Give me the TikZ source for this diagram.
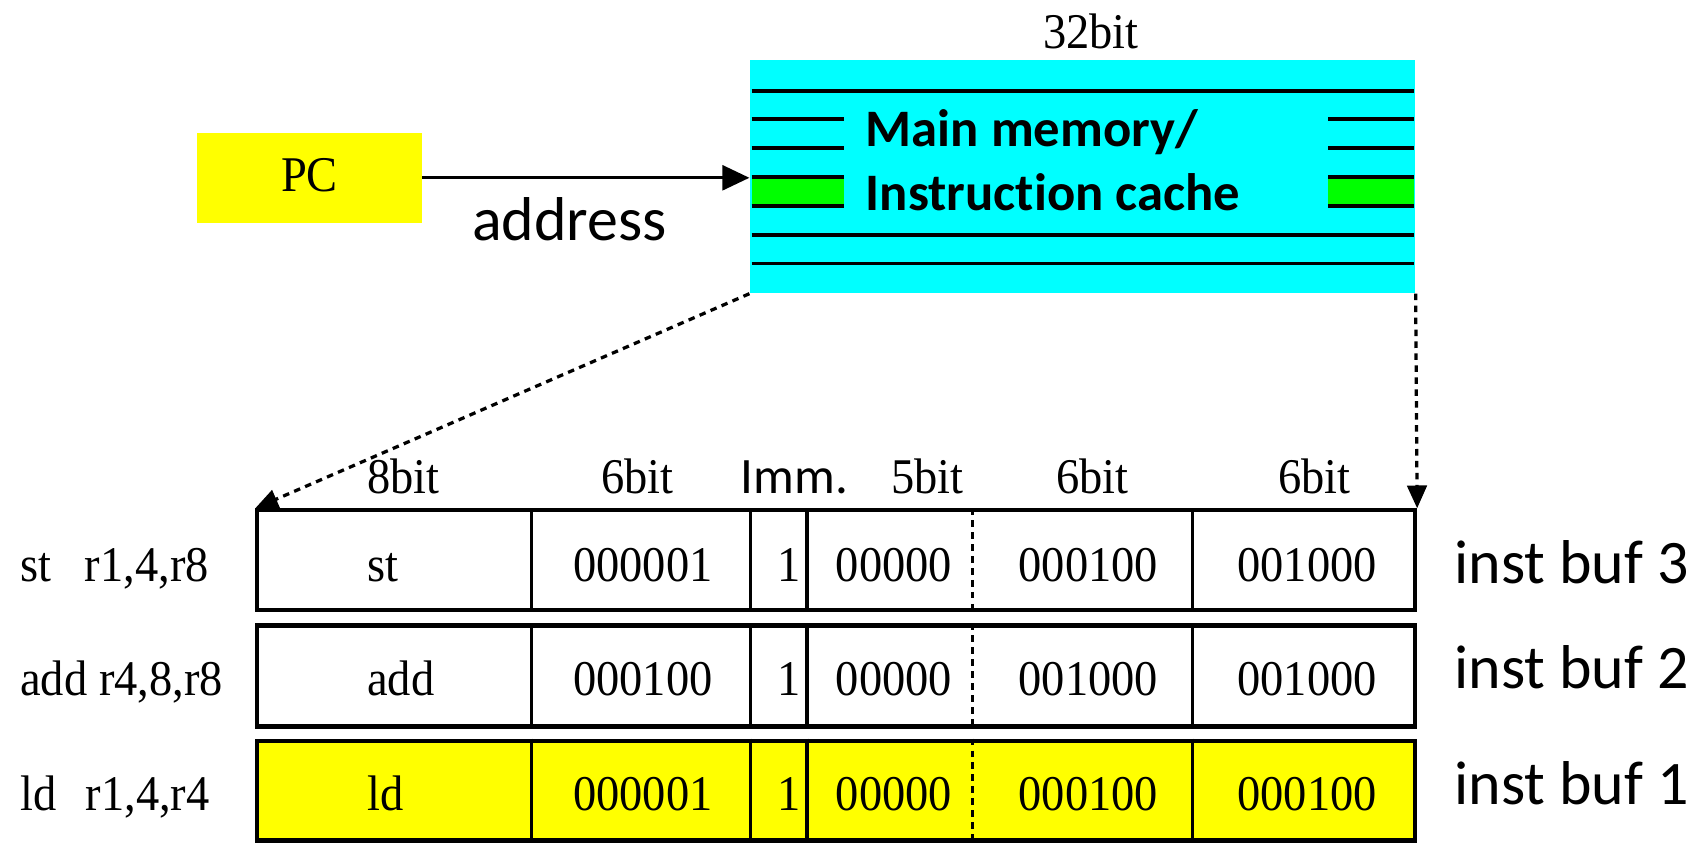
\documentclass[tikz,border=0pt]{standalone}
\usepackage{fontspec}
\setmainfont{Liberation Serif}
\newfontfamily\serifc[FakeStretch=0.93]{Liberation Serif}
\newfontfamily\calibfont[Ligatures=NoCommon]{Carlito}
\usetikzlibrary{arrows.meta}
\definecolor{cyanfill}{HTML}{00FFFF}
\definecolor{greenfill}{HTML}{00FF00}
\definecolor{yellowfill}{HTML}{FFFF00}
\begin{document}
\begin{tikzpicture}[x=1pt,y=-1pt,
  serif/.style={font=\serifc\fontsize{46}{52}\selectfont, inner sep=0pt},
  sans/.style={font=\calibfont\fontsize{57}{64}\selectfont, inner sep=0pt},
  boldsans/.style={font=\calibfont\bfseries\fontsize{48.5}{58}\selectfont, inner sep=0pt},
  imm/.style={font=\calibfont\fontsize{47}{54}\selectfont, inner sep=0pt},
  memline/.style={line width=3.4pt},
  rowbox/.style={draw, line width=3.8pt, minimum width=1066pt, minimum height=92pt, anchor=north west, inner sep=0pt},
  divider/.style={line width=2.8pt},
  dashdiv/.style={line width=2.8pt, dash pattern=on 6pt off 5pt},
  linkarrow/.style={line width=2.8pt, -{Triangle[length=25pt,width=23pt]}},
  dasharrow/.style={line width=3pt, dash pattern=on 6pt off 5pt, -{Triangle[length=21pt,width=18pt]}},
]
\useasboundingbox (0,0) rectangle (1568,777);

% PC register
\node[fill=yellowfill, minimum width=207.6pt, minimum height=83pt, anchor=north west,
      inner sep=0pt, font=\serifc\fontsize{46}{52}\selectfont, text depth=6pt] (pc) at (181,122) {PC};

% memory
\node[fill=cyanfill, minimum width=613pt, minimum height=215pt, anchor=north west, inner sep=0pt] (mem) at (690,55) {};
\fill[greenfill] (692,162.7) rectangle (777,189.7);
\fill[greenfill] (1223,162.7) rectangle (1302,189.7);
\foreach \y in {83.5,216.4,242.5} \draw[memline] (692,\y) -- (1302,\y);
\foreach \y in {109.6,136,162.7,189.7} {
  \draw[memline] (692,\y) -- (777,\y);
  \draw[memline] (1223,\y) -- (1302,\y);
}
\node[boldsans, anchor=base west] (memt1) at (797,135) {Main memory/};
\node[boldsans, anchor=base west] (memt2) at (797,193.4) {Instruction cache};
\node[serif, anchor=base] (w32) at (1004.5,44.5) {32bit};

% address arrow
\draw[linkarrow] (pc.east) -- (pc.east -| mem.west);
\node[sans, anchor=base] (addr) at (524.5,221) {address};

% instruction buffers
\node[rowbox] (row3) at (235,468) {};
\node[rowbox, minimum height=93pt] (row2) at (235,574) {};
\node[rowbox, fill=yellowfill] (row1) at (235,680) {};
\foreach \t/\b in {468/560, 574/667, 680/772} {
  \foreach \x in {489,691,743,1098} \draw[divider] (\x,\t) -- (\x,\b);
  \draw[dashdiv] (895,\t) -- (895,\b);
}

% dashed arrows
\draw[dasharrow] (mem.south west) -- (row3.north west);
\draw[dasharrow] (mem.south east) -- (row3.north east);

% header
\node[serif, anchor=base west] (h1) at (338,454) {8bit};
\node[serif, anchor=base] (h2) at (587,454) {6bit};
\node[imm, anchor=base west] (h3) at (682,454) {Imm.};
\node[serif, anchor=base] (h4) at (854,454) {5bit};
\node[serif, anchor=base] (h5) at (1006,454) {6bit};
\node[serif, anchor=base] (h6) at (1210,454) {6bit};

% row 3 (st)
\node[serif, anchor=base west] (l3) at (18.5,535) {st\hspace*{31pt}r1,4,r8};
\node[serif, anchor=base west] (c31) at (338,535) {st};
\node[serif, anchor=base] (c32) at (592,535) {000001};
\node[serif, anchor=base] (c33) at (727,535) {1};
\node[serif, anchor=base] (c34) at (823,535) {00000};
\node[serif, anchor=base] (c35) at (1002,535) {000100};
\node[serif, anchor=base] (c36) at (1203.5,535) {001000};
\node[sans, anchor=base west] (b3) at (1339,537) {inst buf 3};

% row 2 (add)
\node[serif, anchor=base west] (l2) at (18.5,640) {add r4,8,r8};
\node[serif, anchor=base west] (c21) at (338,640) {add};
\node[serif, anchor=base] (c22) at (592,640) {000100};
\node[serif, anchor=base] (c23) at (727,640) {1};
\node[serif, anchor=base] (c24) at (823,640) {00000};
\node[serif, anchor=base] (c25) at (1002,640) {001000};
\node[serif, anchor=base] (c26) at (1203.5,640) {001000};
\node[sans, anchor=base west] (b2) at (1339,633.6) {inst buf 2};

% row 1 (ld)
\node[serif, anchor=base west] (l1) at (18.5,746) {ld\hspace*{27pt}r1,4,r4};
\node[serif, anchor=base west] (c11) at (338,746) {ld};
\node[serif, anchor=base] (c12) at (592,746) {000001};
\node[serif, anchor=base] (c13) at (727,746) {1};
\node[serif, anchor=base] (c14) at (823,746) {00000};
\node[serif, anchor=base] (c15) at (1002,746) {000100};
\node[serif, anchor=base] (c16) at (1203.5,746) {000100};
\node[sans, anchor=base west] (b1) at (1339,741) {inst buf 1};
\end{tikzpicture}
\end{document}
